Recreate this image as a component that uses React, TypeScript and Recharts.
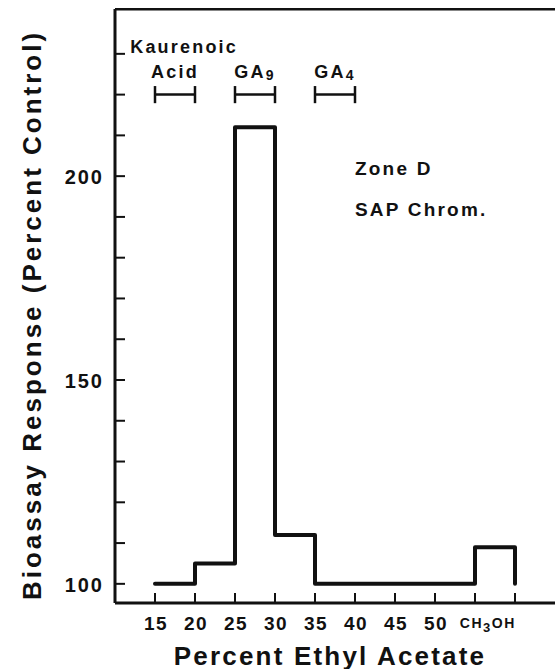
import { LineChart, Line, XAxis, YAxis, ReferenceLine, ReferenceDot } from 'recharts'

// step profile: percent ethyl acetate fraction start -> bioassay response
const stepX = [15, 20, 25, 30, 35, 55, 60]
const stepY = [100, 105, 212, 112, 100, 109, 100]

const xTicks = [15, 20, 25, 30, 35, 40, 45, 50, 55, 60]
const xTickLabels = ['15', '20', '25', '30', '35', '40', '45', '50', '', '']
const methanolX = 56.6

const yTicks = [100, 110, 120, 130, 140, 150, 160, 170, 180, 190, 200, 210, 220, 230]
const yTickLabels = ['100', '', '', '', '', '150', '', '', '', '', '200', '', '', '']

const xDomain = [10, 65]
const yDomain = [95.3, 241]

// standards run on the same column
const markerNames = ['Acid', 'GA', 'GA']
const markerSubs = ['', '9', '4']
const markerStart = [15, 25, 35]
const markerEnd = [20, 30, 40]
const markerLevel = 220
const markerLabelLevel = 225.5

const data = stepX.map((x, i) => ({ x, y: stepY[i] }))

const FONT = '"Liberation Sans", Arial, Helvetica, sans-serif'
const INK = '#111'

function XTick(props: any) {
  const { x, y, payload } = props
  const v = payload.value
  if (v === methanolX) {
    return (
      <text x={x} y={y + 20} textAnchor="middle" dominantBaseline="central"
        fontFamily={FONT} fontWeight="bold" fontSize={14} letterSpacing={1.5} fill={INK}>
        CH<tspan fontSize={13} dy={4}>3</tspan><tspan dy={-4}>OH</tspan>
      </text>
    )
  }
  const label = xTickLabels[xTicks.indexOf(v)]
  return (
    <g>
      <line x1={x} x2={x} y1={y} y2={y - 10} stroke={INK} strokeWidth={2} />
      {label && (
        <text x={x + 1} y={y + 20} textAnchor="middle" dominantBaseline="central"
          fontFamily={FONT} fontWeight="bold" fontSize={19} letterSpacing={1.5} fill={INK}>
          {label}
        </text>
      )}
    </g>
  )
}

function YTick(props: any) {
  const { x, y, payload } = props
  const label = yTickLabels[yTicks.indexOf(payload.value)]
  return (
    <g>
      <line x1={x} x2={x + 10} y1={y} y2={y} stroke={INK} strokeWidth={2} />
      {label && (
        <text x={x - 11} y={y + 1} textAnchor="end" dominantBaseline="central"
          fontFamily={FONT} fontWeight="bold" fontSize={20} letterSpacing={2} fill={INK}>
          {label}
        </text>
      )}
    </g>
  )
}

function textDot(content: any, anchor: string, size = 18) {
  return (p: any) => (
    <text x={p.cx} y={p.cy} textAnchor={anchor} dominantBaseline="central"
      fontFamily={FONT} fontWeight="bold" fontSize={size} letterSpacing={2.2} fill={INK}>
      {content}
    </text>
  )
}

export default function App() {
  return (
    <div style={{ position: 'relative', width: 547, height: 661 }}>
      <style>{'html{overflow:hidden} body{margin:8px 0 0 8px}'}</style>
      <LineChart width={547} height={661} data={data} margin={{ top: 1, right: 0, bottom: 0, left: 0 }}>
        <XAxis type="number" dataKey="x" domain={xDomain} allowDataOverflow
          ticks={[...xTicks, methanolX]} interval={0} tickSize={0} tickMargin={0}
          tick={<XTick />} tickLine={false} height={66}
          axisLine={{ stroke: INK, strokeWidth: 3 }} />
        <YAxis type="number" domain={yDomain} allowDataOverflow ticks={yTicks} interval={0}
          tickSize={0} tickMargin={0} tick={<YTick />} tickLine={false} width={107}
          axisLine={{ stroke: INK, strokeWidth: 3 }} />
        <ReferenceLine y={yDomain[1]} stroke={INK} strokeWidth={3} ifOverflow="visible" />

        {markerStart.map((s, i) => (
          <ReferenceLine key={'m' + i} segment={[{ x: s, y: markerLevel }, { x: markerEnd[i], y: markerLevel }]}
            stroke={INK} strokeWidth={2.5} />
        ))}
        {markerStart.map((s, i) => (
          <ReferenceLine key={'a' + i} segment={[{ x: s, y: markerLevel - 2.1 }, { x: s, y: markerLevel + 2.1 }]}
            stroke={INK} strokeWidth={2.5} />
        ))}
        {markerEnd.map((e, i) => (
          <ReferenceLine key={'b' + i} segment={[{ x: e, y: markerLevel - 2.1 }, { x: e, y: markerLevel + 2.1 }]}
            stroke={INK} strokeWidth={2.5} />
        ))}
        {markerStart.map((s, i) => (
          <ReferenceDot key={'l' + i} x={(s + markerEnd[i]) / 2} y={markerLabelLevel} r={0}
            shape={textDot(
              <>
                {markerNames[i]}
                {markerSubs[i] && <tspan fontSize={14} dy={3}>{markerSubs[i]}</tspan>}
              </>,
              'middle'
            )} />
        ))}
        <ReferenceDot x={11.9} y={231.6} r={0} shape={textDot('Kaurenoic', 'start')} />
        <ReferenceDot x={40} y={201.8} r={0} shape={textDot('Zone D', 'start', 19)} />
        <ReferenceDot x={40} y={191.7} r={0} shape={textDot('SAP Chrom.', 'start', 19)} />

        <Line type="stepAfter" dataKey="y" stroke={INK} strokeWidth={4} dot={false}
          strokeLinejoin="round" strokeLinecap="round" isAnimationActive={false} />
      </LineChart>
      <div style={{
        position: 'absolute', left: 322, top: 648, transform: 'translate(-50%,-50%)',
        fontFamily: FONT, fontWeight: 'bold', fontSize: 26, letterSpacing: 2.2, whiteSpace: 'nowrap', color: INK,
      }}>
        Percent Ethyl Acetate
      </div>
      <div style={{
        position: 'absolute', left: 24, top: 307, transform: 'translate(-50%,-50%) rotate(-90deg)',
        fontFamily: FONT, fontWeight: 'bold', fontSize: 26, letterSpacing: 3, whiteSpace: 'nowrap', color: INK,
      }}>
        Bioassay Response (Percent Control)
      </div>
    </div>
  )
}
